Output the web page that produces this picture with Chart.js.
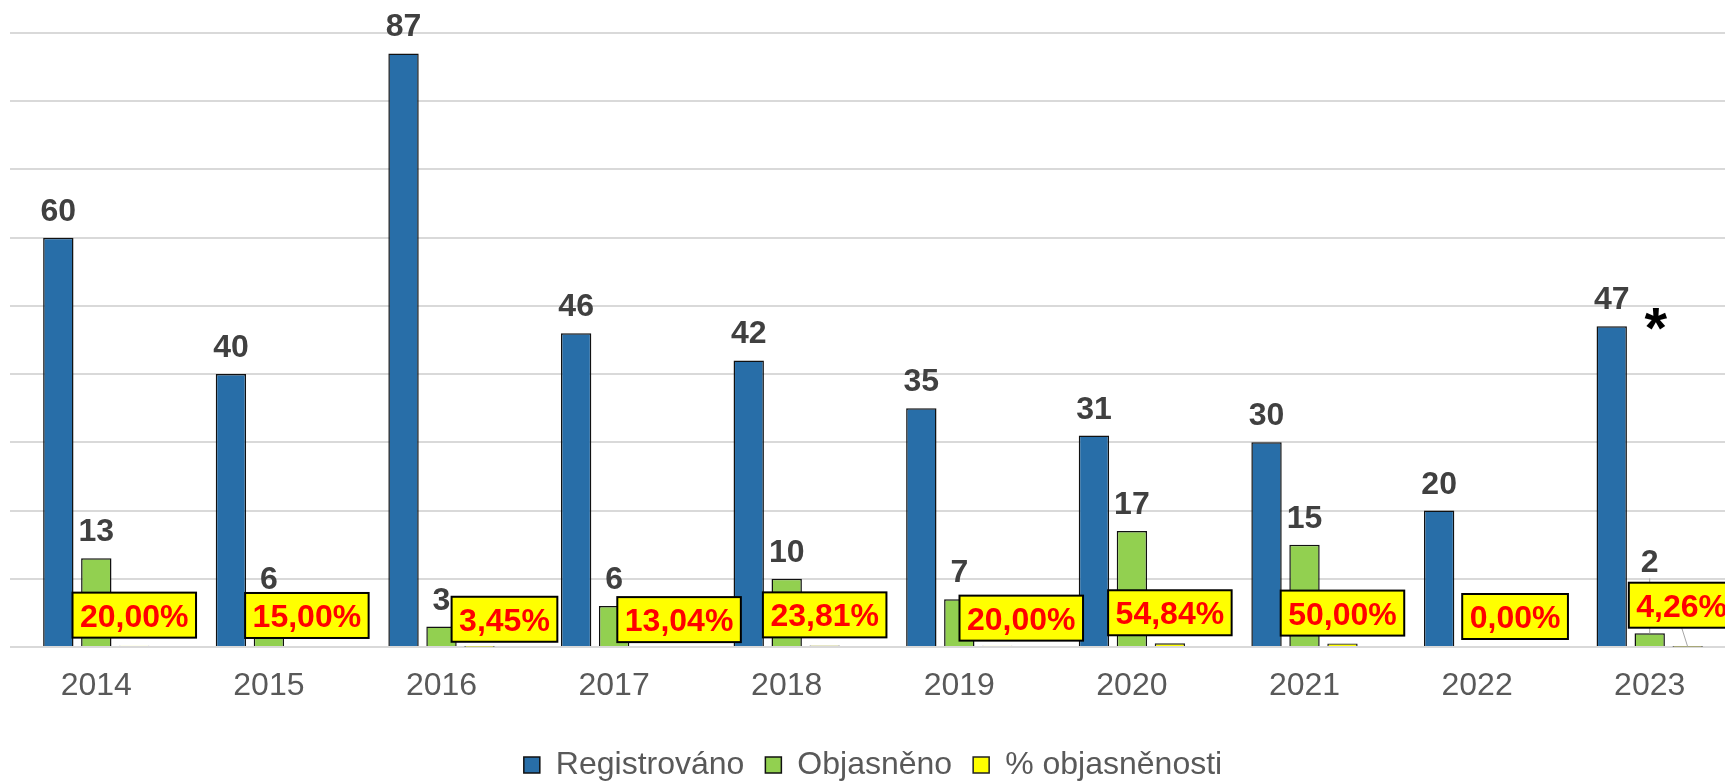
<!DOCTYPE html>
<html>
<head>
<meta charset="utf-8">
<script src="https://cdn.jsdelivr.net/npm/chart.js@4.4.1/dist/chart.umd.min.js"></script>
<style>
  html, body { margin: 0; padding: 0; background: #fff; overflow: hidden; }
  #chart-wrap { position: relative; width: 1740px; height: 783px; }
</style>
</head>
<body>
<div id="chart-wrap"><canvas id="crime-chart"></canvas></div>
<script>
const years = ['2014', '2015', '2016', '2017', '2018', '2019', '2020', '2021', '2022', '2023'];
const registrovano = [60, 40, 87, 46, 42, 35, 31, 30, 20, 47];
const objasneno = [13, 6, 3, 6, 10, 7, 17, 15, 0, 2];
const objasnenost = [0.2, 0.15, 0.0345, 0.1304, 0.2381, 0.2, 0.5484, 0.5, 0, 0.0426];
const yMax = 90;
const yStep = 10;

// label nudges (px) copied from the hand-moved labels of the original
const pctShift = [[0, 0], [0, 0], [25, 3], [27, 4], [0, 0], [24, 3], [0, 0], [0, 0], [0, 0], [-6, -11]];
const greenLift = [0, 0, 0, 0, 0, 0, 0, 0, 0, -44];

const FONT = '"Liberation Sans", Arial, sans-serif';

const barLabels = {
  id: 'barLabels',
  afterDatasetsDraw(chart) {
    const ctx = chart.ctx;
    ctx.save();
    ctx.textAlign = 'center';
    ctx.textBaseline = 'alphabetic';

    // counts above blue and green bars
    [0, 1].forEach(di => {
      const meta = chart.getDatasetMeta(di);
      meta.data.forEach((bar, i) => {
        const v = chart.data.datasets[di].data[i];
        if (!v) return;
        const lift = di === 1 ? greenLift[i] : 0;
        if (lift) {
          ctx.strokeStyle = '#a6a6a6';
          ctx.lineWidth = 1;
          ctx.beginPath();
          ctx.moveTo(bar.x, bar.y - 17 + lift + 6);
          ctx.lineTo(bar.x, bar.y);
          ctx.stroke();
        }
        ctx.font = 'bold 32px ' + FONT;
        ctx.fillStyle = '#404040';
        ctx.fillText(String(v), bar.x, bar.y - 17 + lift);
      });
    });

    // asterisk after the last (provisional) year
    const last = chart.getDatasetMeta(0).data[years.length - 1];
    ctx.font = 'bold 58px ' + FONT;
    ctx.fillStyle = '#000';
    ctx.fillText('*', last.x + 44, last.y + 22);

    // percentage boxes
    const pm = chart.getDatasetMeta(2);
    pm.data.forEach((bar, i) => {
      const v = objasnenost[i];
      const txt = (v * 100).toFixed(2).replace('.', ',') + '%';
      ctx.font = 'bold 32px ' + FONT;
      const w = ctx.measureText(txt).width + 15;
      const h = 45;
      const cx = bar.x + pctShift[i][0];
      const bottom = bar.y - 8 + pctShift[i][1];
      if (pctShift[i][1] < -5) {
        ctx.strokeStyle = '#a6a6a6';
        ctx.lineWidth = 1;
        ctx.beginPath();
        ctx.moveTo(cx, bottom);
        ctx.lineTo(bar.x, bar.y);
        ctx.stroke();
      }
      ctx.fillStyle = '#ffff00';
      ctx.fillRect(cx - w / 2, bottom - h, w, h);
      ctx.strokeStyle = '#000';
      ctx.lineWidth = 2;
      ctx.strokeRect(cx - w / 2, bottom - h, w, h);
      ctx.fillStyle = '#ff0000';
      ctx.fillText(txt, cx, bottom - h / 2 + 11.5);
    });
    ctx.restore();
  },
};

var config = {
  type: 'bar',
  data: {
    labels: years,
    datasets: [
      {
        label: 'Registrováno',
        data: registrovano,
        backgroundColor: '#286ea8',
        borderColor: '#111',
        borderWidth: 1.5,
      },
      {
        label: 'Objasněno',
        data: objasneno,
        backgroundColor: '#92d050',
        borderColor: '#111',
        borderWidth: 1.5,
      },
      {
        label: '% objasněnosti',
        data: objasnenost,
        backgroundColor: '#ffff00',
        borderColor: '#222',
        borderWidth: 1.5,
      },
    ],
  },
  options: {
    responsive: true,
    maintainAspectRatio: false,
    animation: false,
    layout: {
      padding: { top: 33, left: 10, right: 4, bottom: 0 },
    },
    datasets: {
      bar: {
        categoryPercentage: 0.66,
        barPercentage: 0.8,
      },
    },
    plugins: {
      tooltip: { enabled: false },
      legend: {
        position: 'bottom',
        maxHeight: 55,
        labels: {
          boxWidth: 16,
          boxHeight: 16,
          padding: 21,
          color: '#595959',
          font: { size: 32, family: FONT },
        },
      },
    },
    scales: {
      x: {
        grid: { display: false, drawTicks: false },
        border: { display: false },
        ticks: {
          padding: 20,
          color: '#595959',
          font: { size: 32, family: FONT },
        },
        afterFit(scale) {
          scale.height = 81;
        },
      },
      y: {
        min: 0,
        max: yMax,
        grid: { color: '#d9d9d9', lineWidth: 2, drawTicks: false },
        border: { display: false },
        ticks: { display: false, stepSize: yStep },
      },
    },
  },
  plugins: [barLabels],
};

var ctx = document.getElementById('crime-chart').getContext('2d');
window.crimeChart = new Chart(ctx, config);
</script>
</body>
</html>
